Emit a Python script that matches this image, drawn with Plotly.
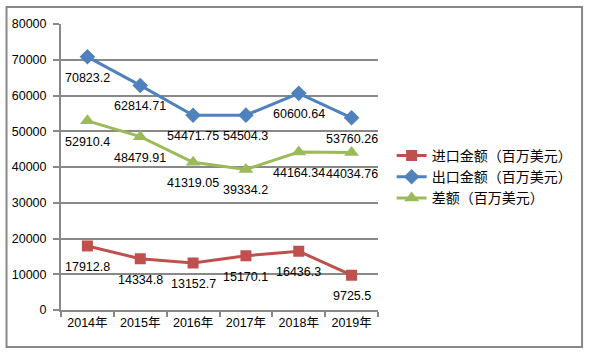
import plotly.graph_objects as go

years = ["2014年", "2015年", "2016年", "2017年", "2018年", "2019年"]
import_vals = [17912.8, 14334.8, 13152.7, 15170.1, 16436.3, 9725.5]
export_vals = [70823.2, 62814.71, 54471.75, 54504.3, 60600.64, 53760.26]
diff_vals = [52910.4, 48479.91, 41319.05, 39334.2, 44164.34, 44034.76]
names = ["进口金额（百万美元）", "出口金额（百万美元）", "差额（百万美元）"]
y_ticks = [0, 10000, 20000, 30000, 40000, 50000, 60000, 70000, 80000]

FONT = "Liberation Sans, Arial, Noto Sans CJK SC, sans-serif"

series = [
    (import_vals, names[0], "#C0504D", "square", 11),
    (export_vals, names[1], "#4F81BD", "diamond", 12),
    (diff_vals, names[2], "#9BBB59", "triangle-up", 13),
]

fig = go.Figure()
annotations = []
for vals, name, color, sym, sz in series:
    fig.add_trace(go.Scatter(
        x=years, y=vals, name=name, mode="lines+markers",
        line=dict(color=color, width=3),
        marker=dict(color=color, symbol=sym, size=sz),
        cliponaxis=False,
    ))
    for yr, v in zip(years, vals):
        annotations.append(dict(
            x=yr, y=v, xref="x", yref="y", text=str(v), showarrow=False,
            yshift=-21, xanchor="center", yanchor="middle",
            font=dict(family=FONT, size=12.5, color="#000000"),
        ))

fig.update_layout(
    width=603, height=357,
    margin=dict(l=58, r=225, t=24, b=47),
    paper_bgcolor="white", plot_bgcolor="white",
    font=dict(family=FONT, size=12, color="#000000"),
    showlegend=True,
    legend=dict(x=1.043, y=0.465, xanchor="left", yanchor="middle",
                font=dict(family=FONT, size=14, color="#000000"),
                bgcolor="rgba(0,0,0,0)", tracegroupgap=0, itemwidth=30),
    xaxis=dict(type="category", range=[-0.5, 5.5], showgrid=False,
               showline=True, linecolor="#888888", linewidth=2,
               ticks="outside", tickson="boundaries", ticklen=5, tickwidth=2,
               tickcolor="#888888", tickfont=dict(size=12.5), fixedrange=True),
    yaxis=dict(range=[0, 80000], tickvals=y_ticks,
               ticktext=[str(t) for t in y_ticks], showgrid=True,
               gridcolor="#888888", gridwidth=2, zeroline=False,
               showline=True, linecolor="#888888", linewidth=2,
               ticks="outside", ticklen=6, tickwidth=2, tickcolor="#888888",
               tickfont=dict(size=12.5), ticklabelstandoff=4, fixedrange=True),
    annotations=annotations,
    shapes=[dict(type="rect", xref="paper", yref="paper",
                 x0=(3 - 58) / 320, x1=(584 - 58) / 320,
                 y0=(310 - 347) / 286, y1=(310 - 7) / 286,
                 line=dict(color="#888888", width=2), layer="below")],
)

fig.write_html("out.html", config={"displayModeBar": False},
               post_script="document.body.style.margin='0';")
